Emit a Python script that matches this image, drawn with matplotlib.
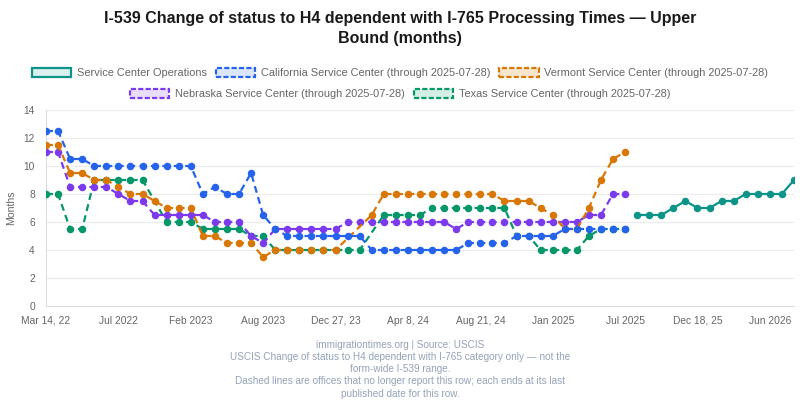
import matplotlib
matplotlib.use("Agg")
import matplotlib.pyplot as plt
import numpy as np
from matplotlib.patches import Patch

plt.rcParams['font.family'] = ['Liberation Sans', 'DejaVu Sans']
plt.rcParams['lines.scale_dashes'] = False

# x categories (only every 6th carries a tick label)
n_points = 63
tick_labels = ["Mar 14, 22", "Jul 2022", "Feb 2023", "Aug 2023", "Dec 27, 23",
               "Apr 8, 24", "Aug 21, 24", "Jan 2025", "Jul 2025", "Dec 18, 25",
               "Jun 2026"]

N = None
california = [12.5, 12.5, 10.5, 10.5, 10, 10, 10, 10, 10, 10, 10, 10, 10, 8, 8.5, 8, 8, 9.5,
              6.5, 5.5, 5, 5, 5, 5, 5, 5, 5, 4, 4, 4, 4, 4, 4, 4, 4, 4.5, 4.5, 4.5, 4.5,
              5, 5, 5, 5, 5.5, 5.5, 5.5, 5.5, 5.5, 5.5]
vermont = [11.5, 11.5, 9.5, 9.5, 9, 9, 8.5, 8, 8, 7.5, 7, 7, 7, 5, 5, 4.5, 4.5, 4.5,
           3.5, 4, 4, 4, 4, 4, 4, N, N, 6.5, 8, 8, 8, 8, 8, 8, 8, 8, 8, 8, 7.5,
           7.5, 7.5, 7, 6.5, 5.5, 5.5, 7, 9, 10.5, 11]
nebraska = [11, 11, 8.5, 8.5, 8.5, 8.5, 8, 7.5, 7.5, 6.5, 6.5, 6.5, 6.5, 6.5, 6, 6, 6, 5,
            4.5, 5.5, 5.5, 5.5, 5.5, 5.5, 5.5, 6, 6, 6, 6, 6, 6, 6, 6, 6, 5.5, 6, 6, 6, 6,
            6, 6, 6, 6, 6, 6, 6.5, 6.5, 8, 8]
texas = [8, 8, 5.5, 5.5, 9, 9, 9, 9, 9, N, 6, 6, 6, 5.5, 5.5, 5.5, 5.5, 5,
         5, 4, 4, 4, 4, 4, 4, 4, 4, N, 6.5, 6.5, 6.5, 6.5, 7, 7, 7, 7, 7, 7, 7,
         5, 5, 4, 4, 4, 4, 5, 5.5, 5.5, 5.5]
# service center operations starts right after the office series end
sco_start = 49
service_center = [6.5, 6.5, 6.5, 7, 7.5, 7, 7, 7.5, 7.5, 8, 8, 8, 8, 9]

offices = [
    ("California Service Center (through 2025-07-28)", california, '#2563eb', '#dbe6fc'),
    ("Vermont Service Center (through 2025-07-28)", vermont, '#d97706', '#f8e6cc'),
    ("Nebraska Service Center (through 2025-07-28)", nebraska, '#7c3aed', '#e9ddfc'),
    ("Texas Service Center (through 2025-07-28)", texas, '#059669', '#d4efe5'),
]
sco_color = '#0d9488'
sco_fill = '#d9f0ee'

fig = plt.figure(figsize=(8, 4), dpi=100)
ax = fig.add_axes([0.0575, 0.235, 0.935, 0.49])

# chart.js draws the first dataset on top
for k, (name, vals, col, fill) in enumerate(offices):
    y = np.array([np.nan if v is None else v for v in vals], dtype=float)
    x = np.arange(len(y))
    ok = ~np.isnan(y)
    ax.plot(x[ok], y[ok], color=col, lw=1.6, dashes=(5, 3.2),
            marker='o', ms=4.4, mfc=col, mec=col, zorder=10 - k)

xs = np.arange(sco_start, sco_start + len(service_center))
ax.plot(xs, service_center, color=sco_color, lw=1.6, marker='o', ms=4.4,
        mfc=sco_color, mec=sco_color, zorder=11)

ax.set_xlim(0, n_points - 1)
ax.set_ylim(0, 14)
ax.set_yticks(np.arange(0, 15, 2))
ax.set_xticks(np.arange(0, n_points, 6))
ax.set_xticklabels(tick_labels)
ax.tick_params(axis='both', length=0, labelsize=7.4, colors='#666666')
ax.tick_params(axis='x', pad=7)
ax.tick_params(axis='y', pad=8)
ax.grid(axis='y', color='#ebebeb', lw=0.8)
ax.set_axisbelow(True)
for s in ['top', 'right']:
    ax.spines[s].set_visible(False)
for s in ['left', 'bottom']:
    ax.spines[s].set_color('#dddddd')
ax.set_ylabel("Months", fontsize=7.6, color='#666666', labelpad=5)

fig.text(0.5, 0.972, "I-539 Change of status to H4 dependent with I-765 Processing Times \u2014 Upper\nBound (months)",
         ha='center', va='top', fontsize=11.5, fontweight='bold', color='#1a1a1a', linespacing=1.4)

# legend: two centred rows
def make_handle(col, fill, dashed):
    return Patch(facecolor=fill, edgecolor=col, lw=1.6, linestyle='--' if dashed else '-')

row1 = [make_handle(sco_color, sco_fill, False),
        make_handle(offices[0][2], offices[0][3], True),
        make_handle(offices[1][2], offices[1][3], True)]
row1_names = ["Service Center Operations", offices[0][0], offices[1][0]]
row2 = [make_handle(offices[2][2], offices[2][3], True),
        make_handle(offices[3][2], offices[3][3], True)]
row2_names = [offices[2][0], offices[3][0]]

leg_kw = dict(frameon=False, fontsize=7.9, handlelength=3.6, handleheight=1.0,
              handletextpad=0.5, columnspacing=0.8, labelcolor='#666666', borderaxespad=0)
fig.legend(row1, row1_names, loc='center', bbox_to_anchor=(0.5, 1 - 73 / 400),
           ncol=3, **leg_kw)
fig.legend(row2, row2_names, loc='center', bbox_to_anchor=(0.5, 1 - 94 / 400),
           ncol=2, **leg_kw)

footer = ("immigrationtimes.org | Source: USCIS\n"
          "USCIS Change of status to H4 dependent with I-765 category only \u2014 not the\n"
          "form-wide I-539 range.\n"
          "Dashed lines are offices that no longer report this row; each ends at its last\n"
          "published date for this row.")
fig.text(0.5, 1 - 340 / 400, footer, ha='center', va='top', fontsize=7.2,
         color='#94a3b8', linespacing=1.27)

fig.savefig("out.png", dpi=100)
